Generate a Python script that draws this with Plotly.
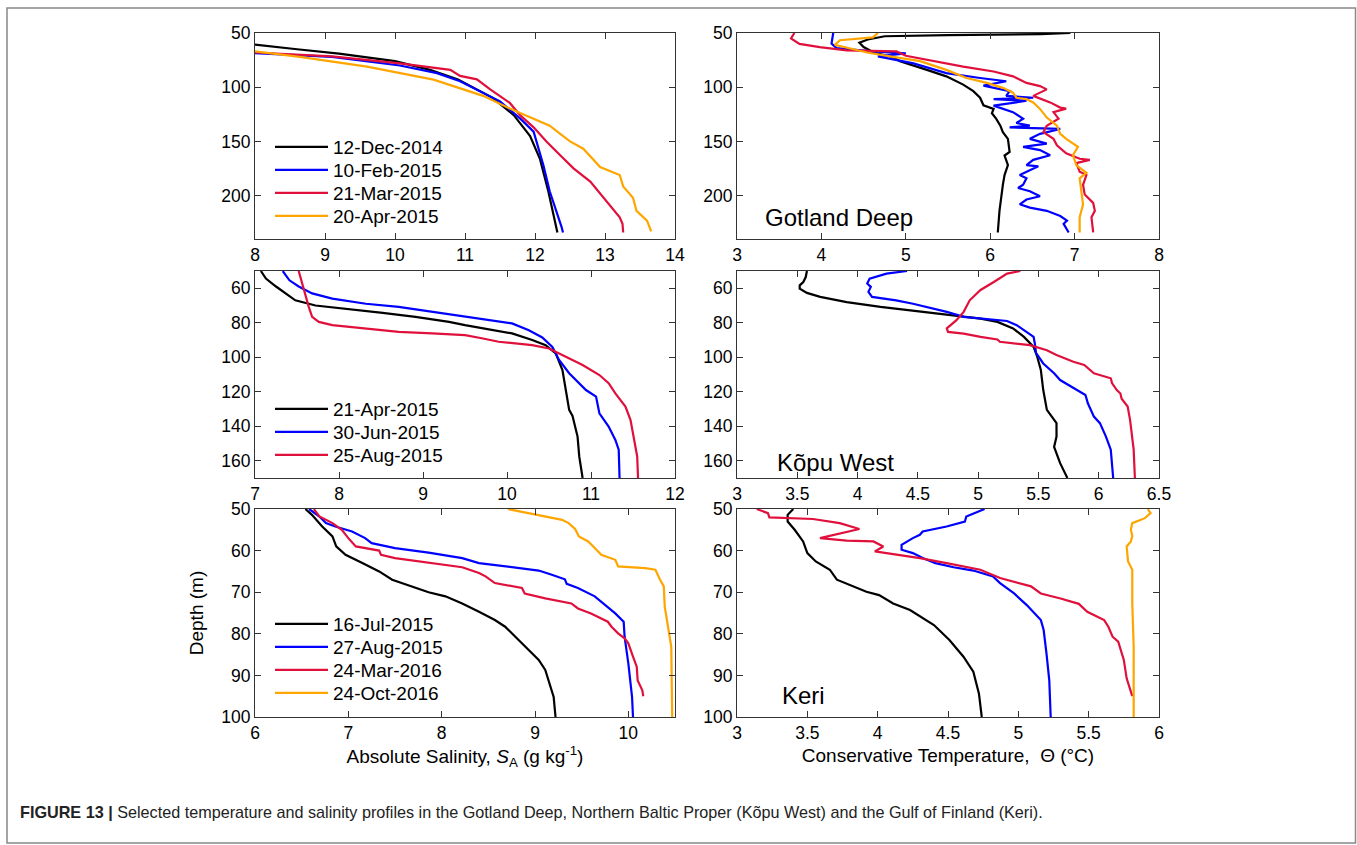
import plotly.graph_objects as go

# ---------------- Data ----------------
# Gotland Deep — Absolute Salinity (g/kg) vs depth (m)
gd_sal_dec14_S = [7.6, 8.0, 8.6, 9.2, 10.0, 10.5, 10.9, 11.4, 11.7, 11.93, 12.07, 12.19, 12.29, 12.32]
gd_sal_dec14_z = [58, 61, 65, 69, 76, 84, 93, 110, 126, 145, 166, 196, 226, 234]
gd_sal_feb15_S = [7.7, 8.0, 9.1, 10.07, 10.6, 10.93, 11.5, 11.79, 11.98, 12.12, 12.21, 12.29, 12.33, 12.38, 12.40]
gd_sal_feb15_z = [67, 68.5, 72, 80, 87, 94.5, 113, 129, 141, 172, 196, 211, 218, 229, 234]
gd_sal_mar15_S = [7.7, 8.0, 9.1, 10.07, 10.79, 10.93, 11.17, 11.36, 11.64, 11.79, 11.98, 12.17, 12.36, 12.55, 12.79, 12.98, 13.12, 13.21, 13.25, 13.26]
gd_sal_mar15_z = [66, 68, 71.5, 78, 84, 89.6, 92.7, 102, 114.5, 126, 137, 150.6, 162.7, 174.8, 187, 202, 212.7, 220, 226, 234]
gd_sal_apr15_S = [7.7, 8.0, 8.64, 9.6, 10.55, 11.26, 11.64, 11.93, 12.21, 12.36, 12.5, 12.69, 12.83, 12.93, 13.21, 13.26, 13.4, 13.45, 13.6, 13.66]
gd_sal_apr15_z = [66, 67, 72, 81, 93, 108, 119.7, 128, 135.5, 143, 150, 156.7, 166, 173.6, 181, 191.5, 202, 214, 223, 233]

# Gotland Deep — Conservative Temperature (°C) vs depth (m)
gd_tmp_dec14_T = [6.95, 6.6, 5.5, 4.75, 4.55, 4.45, 4.5, 4.62, 4.85, 4.93, 5.25, 5.48, 5.68, 5.8, 5.88, 5.92, 6.04, 6.02, 6.07, 6.12, 6.15, 6.21, 6.23, 6.17, 6.21, 6.17, 6.15, 6.13, 6.11, 6.09]
gd_tmp_dec14_z = [50, 51, 52, 53, 56, 59, 63, 68, 72.4, 76, 84, 90, 97.6, 103.6, 109.7, 116.7, 120, 124, 129, 135.5, 141.5, 147.6, 159.7, 163, 171.8, 181, 190, 202, 214, 234]
gd_tmp_feb15_T = [4.14, 4.12, 4.18, 4.6, 5.0, 4.67, 5.09, 5.48, 5.88, 6.19, 5.92, 6.23, 6.19, 6.51, 6.04, 6.43, 6.04, 6.27, 6.39, 6.31, 6.47, 6.23, 6.83, 6.59, 6.47, 6.67, 6.39, 6.59, 6.71, 6.51, 6.43, 6.57, 6.35, 6.43, 6.39, 6.33, 6.47, 6.59, 6.43, 6.35, 6.47, 6.67, 6.83, 6.91, 6.87, 6.93]
gd_tmp_feb15_z = [50, 59.7, 64, 67, 68.8, 71.5, 78, 87, 91.5, 94.5, 98.5, 103.6, 108, 109.7, 111, 112.5, 117, 123, 129, 133, 135.5, 137, 138.5, 143, 147.6, 152, 155, 158, 162.7, 167, 171.8, 173, 181, 184, 190, 193, 196, 200.6, 203.6, 208, 211, 214, 218.8, 223, 226, 234]
gd_tmp_mar15_T = [3.68, 3.64, 3.74, 3.98, 4.3, 4.89, 5.0, 5.32, 5.68, 6.04, 6.27, 6.43, 6.59, 6.67, 6.51, 6.71, 6.83, 6.9, 6.75, 6.81, 6.67, 6.63, 6.75, 6.79, 6.9, 7.06, 7.18, 7.02, 7.06, 7.14, 7.1, 7.12, 7.22, 7.24, 7.2, 7.22]
gd_tmp_mar15_z = [50, 55, 60, 63, 66, 67, 71, 76, 81, 85.5, 90, 96, 99, 102, 108, 114, 118.8, 119.7, 123, 129, 135.5, 141.5, 147.6, 153.6, 161, 166, 167, 170, 178, 181, 190, 199, 206.7, 214, 220, 234]
gd_tmp_apr15_T = [4.67, 4.61, 4.22, 4.16, 4.38, 4.54, 4.85, 5.17, 5.48, 5.72, 5.96, 6.15, 6.27, 6.31, 6.43, 6.51, 6.59, 6.67, 6.79, 6.83, 6.9, 6.98, 7.04, 6.98, 7.02, 7.14, 7.06, 7.08, 7.1, 7.06, 7.06]
gd_tmp_apr15_z = [50, 54, 56.7, 61, 65, 68, 72, 76, 84, 91.5, 96, 100.6, 105, 109.7, 111, 114, 120, 128, 135.5, 143, 147.6, 152, 155, 162.7, 171.8, 179, 184, 196, 208, 220, 234]

# Kõpu West — Absolute Salinity
kw_sal_apr15_S = [7.07, 7.13, 7.25, 7.37, 7.48, 7.72, 8.12, 8.52, 8.91, 9.31, 9.5, 9.79, 10.06, 10.3, 10.46, 10.58, 10.66, 10.7, 10.74, 10.78, 10.84, 10.86, 10.9]
kw_sal_apr15_z = [50, 54.4, 59, 63, 67, 70, 72, 74.3, 76.6, 79.5, 81.4, 84, 86.2, 90, 93, 97.8, 107.4, 119, 130.5, 134, 146, 157.5, 170]
kw_sal_jun15_S = [7.33, 7.41, 7.52, 7.68, 7.92, 8.32, 8.71, 9.11, 9.5, 9.9, 10.06, 10.26, 10.42, 10.54, 10.62, 10.74, 10.94, 11.06, 11.1, 11.21, 11.29, 11.33, 11.34]
kw_sal_jun15_z = [50, 55.4, 59, 63, 66, 69, 70.8, 73.6, 76.6, 79, 80.4, 84.4, 88.5, 94, 101.6, 109.3, 119, 122.8, 132.5, 140.2, 147.9, 153.6, 170]
kw_sal_aug15_S = [7.52, 7.56, 7.6, 7.64, 7.68, 7.76, 7.92, 8.32, 8.71, 9.11, 9.5, 9.7, 9.9, 10.3, 10.5, 10.7, 10.9, 11.1, 11.21, 11.29, 11.41, 11.47, 11.51, 11.55, 11.56]
kw_sal_aug15_z = [50, 57.3, 65, 70.8, 76.6, 79.5, 81.4, 83.3, 85.3, 86.2, 87.2, 89, 91, 93, 94.9, 99.7, 104.5, 110.3, 115, 121, 128.6, 136.3, 146, 157.5, 170]

# Kõpu West — Conservative Temperature
kw_tmp_apr15_T = [3.58, 3.57, 3.55, 3.52, 3.52, 3.58, 3.69, 3.91, 4.19, 4.46, 4.74, 5.02, 5.16, 5.29, 5.38, 5.46, 5.49, 5.52, 5.54, 5.57, 5.65, 5.65, 5.63, 5.68, 5.74]
kw_tmp_apr15_z = [50, 53.5, 56.4, 58.3, 60.2, 62.7, 65, 68, 70.8, 73, 75.6, 77.6, 79.5, 83.3, 88.2, 94, 99.7, 107.4, 119, 130.5, 138.2, 146, 152, 161.4, 170]
kw_tmp_jun15_T = [4.41, 4.24, 4.1, 4.08, 4.11, 4.09, 4.12, 4.32, 4.46, 4.63, 4.74, 4.88, 5.02, 5.24, 5.32, 5.4, 5.46, 5.47, 5.48, 5.54, 5.63, 5.68, 5.79, 5.89, 5.91, 5.96, 6.01, 6.06, 6.1, 6.12]
kw_tmp_jun15_z = [50, 51.5, 54.4, 57.3, 59.2, 62.1, 65, 67, 69, 71.8, 73.7, 76.6, 77.6, 79, 81.4, 85.3, 88.2, 92, 97.4, 103.6, 109.3, 113.2, 118, 121.9, 126.7, 134.4, 138.2, 146, 153.6, 170]
kw_tmp_aug15_T = [5.35, 5.24, 5.13, 5.02, 4.93, 4.88, 4.82, 4.74, 4.75, 4.88, 5.02, 5.16, 5.18, 5.43, 5.57, 5.65, 5.79, 5.88, 5.96, 6.1, 6.11, 6.15, 6.18, 6.19, 6.24, 6.26, 6.29, 6.3]
kw_tmp_aug15_z = [50, 51.5, 56.4, 61, 67, 73.7, 78.5, 83.3, 85.3, 86.3, 88.2, 89.7, 91, 93, 95.9, 98.7, 102.6, 104.5, 109.3, 112.2, 115, 119, 121, 124, 128.6, 136.3, 153.6, 170]

# Keri — Absolute Salinity
ke_sal_jul15_S = [6.54, 6.61, 6.72, 6.83, 6.87, 6.97, 7.15, 7.33, 7.47, 7.68, 7.86, 8.04, 8.22, 8.4, 8.57, 8.68, 8.79, 8.93, 9.04, 9.11, 9.16, 9.2, 9.22]
ke_sal_jul15_z = [50, 51.4, 54.2, 56.6, 59, 61, 63, 65, 67, 68.6, 70, 71, 72.7, 74.7, 76.7, 78.3, 80.7, 83.9, 86.3, 88.7, 92, 95.2, 100]
ke_sal_aug15_S = [6.58, 6.69, 6.76, 6.86, 7.04, 7.18, 7.25, 7.5, 7.86, 8.22, 8.4, 8.75, 9.04, 9.18, 9.32, 9.34, 9.46, 9.64, 9.75, 9.86, 9.95, 9.96, 10.0, 10.04, 10.05]
ke_sal_aug15_z = [50, 51.8, 53.4, 54.2, 55.4, 57, 58.2, 59.4, 60.5, 61.8, 63, 64, 64.8, 65.8, 66.9, 68, 69, 71, 73, 75.1, 77.1, 80.7, 87.1, 95.2, 100]
ke_sal_mar16_S = [6.63, 6.69, 6.83, 6.93, 7.0, 7.08, 7.33, 7.35, 7.5, 7.86, 8.22, 8.4, 8.47, 8.57, 8.75, 8.86, 8.89, 9.11, 9.39, 9.46, 9.6, 9.78, 9.82, 9.89, 9.96, 10.0, 10.05, 10.09, 10.1, 10.15, 10.16]
ke_sal_mar16_z = [50, 51.8, 53.4, 55, 57, 59, 60, 61, 61.8, 62.9, 64, 65.4, 66.2, 67.8, 68.5, 69, 70.3, 71.5, 72.7, 73.9, 75.1, 77.1, 78.3, 79.9, 81.1, 82.3, 85.5, 87.9, 91.2, 93.6, 95]
ke_sal_oct16_S = [8.71, 8.93, 9.14, 9.29, 9.36, 9.43, 9.47, 9.57, 9.64, 9.71, 9.86, 9.89, 10.18, 10.29, 10.34, 10.38, 10.39, 10.43, 10.46, 10.47]
ke_sal_oct16_z = [50, 51, 51.8, 52.6, 53.4, 54.8, 56.6, 57.8, 59.4, 61, 62.2, 63.8, 64.2, 64.6, 67, 68.6, 73.5, 79.1, 83.1, 100]

# Keri — Conservative Temperature
ke_tmp_jul15_T = [3.4, 3.36, 3.36, 3.41, 3.47, 3.5, 3.56, 3.66, 3.71, 3.82, 3.92, 4.01, 4.11, 4.23, 4.4, 4.51, 4.61, 4.68, 4.72, 4.74]
ke_tmp_jul15_z = [50, 51.4, 53, 55, 57.8, 60.6, 62.6, 64.6, 67, 68.6, 69.9, 70.7, 72.7, 74.3, 77.9, 81.5, 85.5, 89.1, 94.4, 100]
ke_tmp_aug15_T = [4.76, 4.63, 4.62, 4.49, 4.32, 4.3, 4.25, 4.17, 4.17, 4.25, 4.32, 4.41, 4.54, 4.68, 4.82, 4.87, 4.97, 5.06, 5.16, 5.18, 5.2, 5.22, 5.23]
ke_tmp_aug15_z = [50, 51.8, 53, 54.2, 55.4, 56.2, 57, 58.6, 59.8, 60.6, 61.8, 63, 64, 64.8, 66.2, 67.8, 70.3, 73.1, 76.7, 79.1, 84.7, 91.2, 100]
ke_tmp_mar16_T = [3.14, 3.22, 3.23, 3.54, 3.73, 3.87, 3.59, 3.78, 3.97, 4.04, 3.98, 4.11, 4.3, 4.49, 4.73, 4.87, 5.09, 5.16, 5.3, 5.43, 5.49, 5.61, 5.64, 5.67, 5.71, 5.75, 5.77, 5.81]
ke_tmp_mar16_z = [50, 51, 52, 52.4, 53.4, 54.8, 57, 57.6, 57.8, 59, 60.2, 60.8, 61.8, 63, 64.6, 66.6, 68.6, 70.3, 71.5, 72.8, 74.7, 76.7, 78.3, 80.7, 81.9, 86.3, 90.7, 95]
ke_tmp_oct16_T = [5.92, 5.94, 5.9, 5.81, 5.8, 5.81, 5.8, 5.77, 5.78, 5.81, 5.81, 5.82, 5.82]
ke_tmp_oct16_z = [50, 51, 52.2, 53.4, 55, 56.5, 57.8, 59, 62.6, 64.6, 72.7, 83.1, 100]

# Labels
legend_top = ["12-Dec-2014", "10-Feb-2015", "21-Mar-2015", "20-Apr-2015"]
legend_mid = ["21-Apr-2015", "30-Jun-2015", "25-Aug-2015"]
legend_bot = ["16-Jul-2015", "27-Aug-2015", "24-Mar-2016", "24-Oct-2016"]
site_names = ["Gotland Deep", "Kõpu West", "Keri"]

# ---------------- Style ----------------
W, H = 1357, 845
C_BLACK, C_BLUE, C_RED, C_ORANGE = "#000000", "#0000ff", "#e0103c", "#ffa500"
FONT = "Liberation Sans, Arial, sans-serif"
AXCOL = "#333333"

def px_x(p):
    return p / W

def px_y(p):
    return 1 - p / H

col_dom = [[px_x(255), px_x(675)], [px_x(737), px_x(1159)]]
row_dom = [[px_y(239), px_y(33)], [px_y(478), px_y(271)], [px_y(717), px_y(509)]]

fig = go.Figure()
legend_slots = []  # (legend id, item centre y in px)

def add(xv, zv, color, ax, name, legend_y=None):
    leg_id = None
    if legend_y is not None:
        n = len(legend_slots) + 1
        leg_id = "legend" if n == 1 else "legend%d" % n
        legend_slots.append((leg_id, legend_y))
    fig.add_trace(go.Scatter(
        x=xv, y=zv, mode="lines", name=name,
        line=dict(color=color, width=2.2),
        xaxis="x" + ("" if ax == 1 else str(ax)),
        yaxis="y" + ("" if ax == 1 else str(ax)),
        showlegend=leg_id is not None,
        legend=leg_id if leg_id else "legend",
        hoverinfo="skip",
    ))

cols4 = [C_BLACK, C_BLUE, C_RED, C_ORANGE]
# Panel 1 (legend rows)
for (xv, zv), c, nm, ly in zip([(gd_sal_dec14_S, gd_sal_dec14_z), (gd_sal_feb15_S, gd_sal_feb15_z),
                               (gd_sal_mar15_S, gd_sal_mar15_z), (gd_sal_apr15_S, gd_sal_apr15_z)],
                              cols4, legend_top, [147, 170, 193, 216]):
    add(xv, zv, c, 1, nm, ly)
# Panel 2
for (xv, zv), c, nm in zip([(gd_tmp_dec14_T, gd_tmp_dec14_z), (gd_tmp_feb15_T, gd_tmp_feb15_z),
                            (gd_tmp_mar15_T, gd_tmp_mar15_z), (gd_tmp_apr15_T, gd_tmp_apr15_z)], cols4, legend_top):
    add(xv, zv, c, 2, nm)
# Panel 3
for (xv, zv), c, nm, ly in zip([(kw_sal_apr15_S, kw_sal_apr15_z), (kw_sal_jun15_S, kw_sal_jun15_z),
                               (kw_sal_aug15_S, kw_sal_aug15_z)], cols4[:3], legend_mid, [409, 432, 455]):
    add(xv, zv, c, 3, nm, ly)
# Panel 4
for (xv, zv), c, nm in zip([(kw_tmp_apr15_T, kw_tmp_apr15_z), (kw_tmp_jun15_T, kw_tmp_jun15_z),
                            (kw_tmp_aug15_T, kw_tmp_aug15_z)], cols4[:3], legend_mid):
    add(xv, zv, c, 4, nm)
# Panel 5
for (xv, zv), c, nm, ly in zip([(ke_sal_jul15_S, ke_sal_jul15_z), (ke_sal_aug15_S, ke_sal_aug15_z),
                               (ke_sal_mar16_S, ke_sal_mar16_z), (ke_sal_oct16_S, ke_sal_oct16_z)],
                              cols4, legend_bot, [624, 647, 670, 693]):
    add(xv, zv, c, 5, nm, ly)
# Panel 6
for (xv, zv), c, nm in zip([(ke_tmp_jul15_T, ke_tmp_jul15_z), (ke_tmp_aug15_T, ke_tmp_aug15_z),
                            (ke_tmp_mar16_T, ke_tmp_mar16_z), (ke_tmp_oct16_T, ke_tmp_oct16_z)], cols4, legend_bot):
    add(xv, zv, c, 6, nm)

def axis_common():
    return dict(showline=True, linecolor=AXCOL, linewidth=1, mirror="allticks",
                ticks="inside", ticklen=6, tickcolor=AXCOL, tickwidth=1,
                showgrid=False, zeroline=False,
                tickfont=dict(family=FONT, size=17.5, color="#000"))

x_ranges = [[8, 14], [3, 8], [7, 12], [3, 6.5], [6, 10.5], [3, 6]]
x_ticks = [[8, 9, 10, 11, 12, 13, 14], [3, 4, 5, 6, 7, 8], [7, 8, 9, 10, 11, 12],
           [3, 3.5, 4, 4.5, 5, 5.5, 6, 6.5], [6, 7, 8, 9, 10], [3, 3.5, 4, 4.5, 5, 5.5, 6]]
y_ranges = [[240, 50], [240, 50], [170, 50], [170, 50], [100, 50], [100, 50]]
y_ticks = [[50, 100, 150, 200], [50, 100, 150, 200], [60, 80, 100, 120, 140, 160],
           [60, 80, 100, 120, 140, 160], [50, 60, 70, 80, 90, 100], [50, 60, 70, 80, 90, 100]]

layout = dict(width=W, height=H, margin=dict(l=0, r=0, t=0, b=0, autoexpand=False),
              paper_bgcolor="white", plot_bgcolor="white",
              font=dict(family=FONT, color="#000"))
for i in range(6):
    k = "" if i == 0 else str(i + 1)
    r, c = i // 2, i % 2
    xa = axis_common()
    xa.update(domain=col_dom[c], range=x_ranges[i], tickvals=x_ticks[i], anchor="y" + k)
    ya = axis_common()
    ya.update(domain=row_dom[r], range=y_ranges[i], tickvals=y_ticks[i], anchor="x" + k)
    layout["xaxis" + k] = xa
    layout["yaxis" + k] = ya

layout["yaxis5"]["title"] = dict(text="Depth (m)", font=dict(family=FONT, size=19), standoff=12)
layout["xaxis5"]["title"] = dict(text="Absolute Salinity, <i>S</i><sub>A</sub> (g kg<sup>-1</sup>)",
                                 font=dict(family=FONT, size=19), standoff=6)
layout["xaxis6"]["title"] = dict(text="Conservative Temperature, \u00a0\u0398 (°C)",
                                 font=dict(family=FONT, size=19), standoff=6)

for leg_id, ly in legend_slots:
    layout[leg_id] = dict(bgcolor="rgba(0,0,0,0)", borderwidth=0, xanchor="left", yanchor="middle",
                          x=px_x(270), y=px_y(ly), itemwidth=53,
                          font=dict(family=FONT, size=19, color="#000"),
                          itemclick=False, itemdoubleclick=False)

fig.update_layout(**layout)

# Site names
for txt, (xp, yp) in zip(site_names, [(763, 217), (775, 462), (780, 695)]):
    fig.add_annotation(text=txt, xref="paper", yref="paper", x=px_x(xp), y=px_y(yp),
                       xanchor="left", yanchor="middle", showarrow=False,
                       font=dict(family=FONT, size=24, color="#000"))

# Caption
fig.add_annotation(
    text="<b>FIGURE 13 |</b> Selected temperature and salinity profiles in the Gotland Deep, "
         "Northern Baltic Proper (Kõpu West) and the Gulf of Finland (Keri).",
    xref="paper", yref="paper", x=px_x(18), y=px_y(812), xanchor="left", yanchor="middle",
    showarrow=False, font=dict(family=FONT, size=16.2, color="#222"))

# Outer frame
fig.add_shape(type="rect", xref="paper", yref="paper", x0=px_x(7), x1=px_x(1355.5),
              y0=px_y(843), y1=px_y(8), line=dict(color="#888888", width=1.5))

fig.write_html(
    "out.html",
    config={"displayModeBar": False},
    post_script="document.body.style.margin='0px';document.body.style.overflow='hidden';"
                "document.documentElement.style.overflow='hidden';",
)
